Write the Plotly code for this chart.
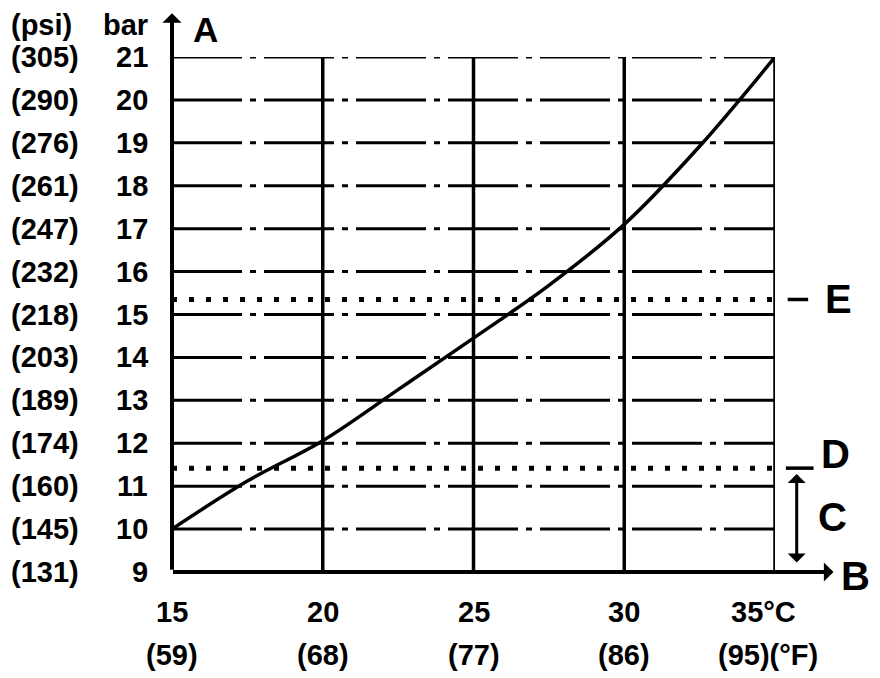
import plotly.graph_objects as go

# ---- data ----
curve_temp_c = [15, 17.5, 20, 22.5, 25, 27.5, 30, 32.5, 35]
curve_bar = [10, 11.12, 12.06, 13.25, 14.45, 15.68, 17.1, 18.92, 21]

bar_ticks = [9, 10, 11, 12, 13, 14, 15, 16, 17, 18, 19, 20, 21]
psi_labels = ["(131)", "(145)", "(160)", "(174)", "(189)", "(203)", "(218)",
              "(232)", "(247)", "(261)", "(276)", "(290)", "(305)"]
temp_ticks_c = [15, 20, 25, 30, 35]
temp_labels_c = ["15", "20", "25", "30", "35°C"]
temp_labels_f = ["(59)", "(68)", "(77)", "(86)", "(95)(°F)"]
grid_bars = [10, 11, 12, 13, 14, 15, 16, 17, 18, 19, 20, 21]
grid_temps = [20, 25, 30, 35]
limit_e = 15.35   # E
limit_d = 11.42   # D

FONT = "Liberation Sans, Arial, sans-serif"
NUM = dict(family=FONT, size=29, color="black", weight="bold")
BIG = dict(family=FONT, size=40, color="black", weight="bold")

fig = go.Figure()
fig.add_trace(go.Scatter(x=curve_temp_c, y=curve_bar, mode="lines",
                         line=dict(color="black", width=3.5, shape="spline"),
                         showlegend=False, hoverinfo="skip"))

shapes = []
for b in grid_bars:
    shapes.append(dict(type="line", xref="x", yref="y", x0=15, x1=35, y0=b, y1=b,
                       line=dict(color="black", width=3, dash="70px,8px,6px,8px")))
for t in grid_temps:
    shapes.append(dict(type="line", xref="x", yref="y", x0=t, x1=t, y0=9, y1=21,
                       line=dict(color="black", width=3.5)))
for v, x0, x1 in [(limit_e, 1.021, 1.055), (limit_d, 1.018, 1.064)]:
    shapes.append(dict(type="line", xref="x", yref="y", x0=15, x1=35, y0=v, y1=v,
                       line=dict(color="black", width=5, dash="5px,12px")))
    shapes.append(dict(type="line", xref="paper", yref="y", x0=x0, x1=x1, y0=v, y1=v,
                       line=dict(color="black", width=3.5)))

ann = []
# y axis with arrow
ann.append(dict(x=15, y=1.085, xref="x", yref="paper", ax=0, ay=558, axref="pixel",
                showarrow=True, arrowhead=1, arrowsize=0.8, arrowwidth=4,
                arrowcolor="black", text=""))
# x axis (bar 9) with arrow to B
ann.append(dict(x=1.097, y=9, xref="paper", yref="y", ax=-662, ay=0,
                showarrow=True, arrowhead=1, arrowsize=0.8, arrowwidth=4,
                arrowcolor="black", text=""))
# C double arrow
ann.append(dict(x=1.036, y=9.22, xref="paper", yref="y", ax=0, ay=-90,
                showarrow=True, arrowhead=1, startarrowhead=1, arrowside="end+start",
                arrowsize=1, arrowwidth=3, arrowcolor="black", text=""))

for b, p in zip(bar_ticks, psi_labels):
    ann.append(dict(x=-0.271, y=b, xref="paper", yref="y", text=p, showarrow=False,
                    xanchor="left", yanchor="middle", font=NUM))
    ann.append(dict(x=-0.036, y=b, xref="paper", yref="y", text=str(b), showarrow=False,
                    xanchor="right", yanchor="middle", font=NUM))

for i, (t, lc, lf) in enumerate(zip(temp_ticks_c, temp_labels_c, temp_labels_f)):
    last = i == len(temp_ticks_c) - 1
    ann.append(dict(x=t, y=0, xref="x", yref="paper", text=lc, showarrow=False,
                    xanchor="center", yanchor="middle", yshift=-40,
                    xshift=-12 if last else 0, font=NUM))
    ann.append(dict(x=t, y=0, xref="x", yref="paper", text=lf, showarrow=False,
                    xanchor="center", yanchor="middle", yshift=-83,
                    xshift=-7 if last else 0, font=NUM))

# headers and letters
ann.append(dict(x=-0.271, y=1.063, xref="paper", yref="paper", text="(psi)", showarrow=False,
                xanchor="left", yanchor="middle", font=NUM))
ann.append(dict(x=-0.036, y=1.063, xref="paper", yref="paper", text="bar", showarrow=False,
                xanchor="right", yanchor="middle", font=NUM))
ann.append(dict(x=0.056, y=1.095, xref="paper", yref="paper", text="A", showarrow=False,
                xanchor="center", yanchor="top", font=dict(BIG, size=35)))
ann.append(dict(x=1.105, y=limit_e, xref="paper", yref="y", text="E", showarrow=False,
                xanchor="center", yanchor="middle", font=BIG))
ann.append(dict(x=1.1, y=limit_d, xref="paper", yref="y", text="D", showarrow=False,
                xanchor="center", yanchor="middle", yshift=14, font=BIG))
ann.append(dict(x=1.095, y=10.28, xref="paper", yref="y", text="C", showarrow=False,
                xanchor="center", yanchor="middle", font=BIG))
ann.append(dict(x=1.133, y=9, xref="paper", yref="y", text="B", showarrow=False,
                xanchor="center", yanchor="middle", yshift=-4, font=BIG))

fig.update_layout(
    width=872, height=670,
    margin=dict(l=164, r=105, t=49, b=106),
    paper_bgcolor="white", plot_bgcolor="white",
    xaxis=dict(range=[15, 35], showgrid=False, zeroline=False, showticklabels=False,
               ticks="", showline=False, fixedrange=True),
    yaxis=dict(range=[9, 21], showgrid=False, zeroline=False, showticklabels=False,
               ticks="", showline=False, fixedrange=True),
    shapes=shapes, annotations=ann, showlegend=False,
)
fig.write_html("out.html", config={"displayModeBar": False})
